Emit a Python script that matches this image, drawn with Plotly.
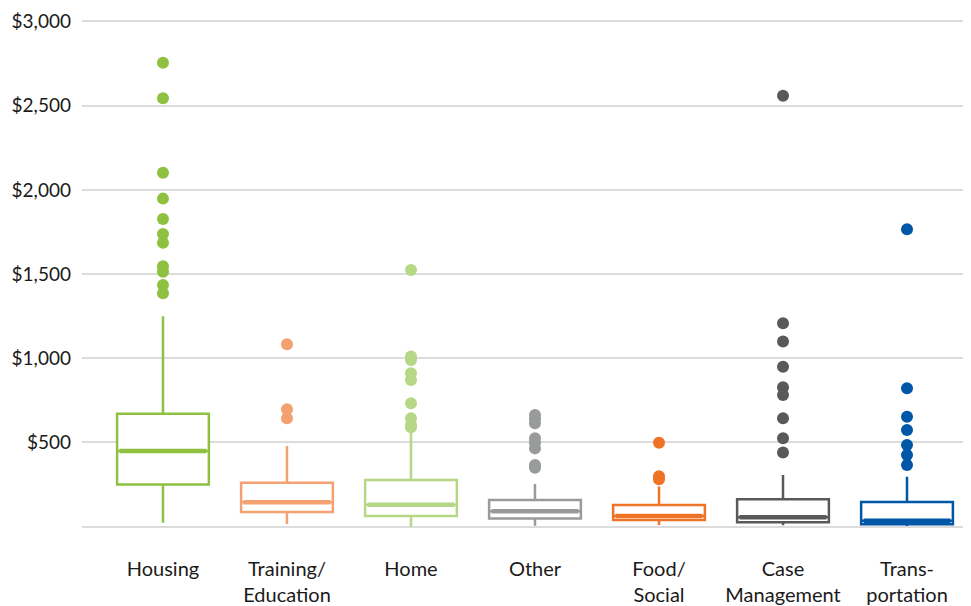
import plotly.graph_objects as go

categories = ["Housing", "Training/<br>Education", "Home", "Other", "Food/<br>Social",
              "Case<br>Management", "Trans-<br>portation"]
colors = ["#8dc13f", "#f4a172", "#b6d886", "#989a9b", "#ee7326", "#58595b", "#0057a8"]

q1 = [250, 87, 64, 48, 40, 26, 14]
median = [450, 145, 131, 91, 64, 56, 36]
q3 = [671, 261, 277, 158, 129, 163, 147]
lowerfence = [24, 16, 0, 5, 10, 8, 4]
upperfence = [1250, 479, 570, 253, 238, 307, 297]

outliers = [
    [2755, 2544, 2102, 1948, 1827, 1738, 1686, 1547, 1514, 1435, 1386],
    [1083, 697, 644],
    [1524, 1010, 990, 911, 871, 733, 644, 604, 590],
    [663, 640, 614, 525, 500, 465, 366, 350],
    [499, 300, 282],
    [2559, 1208, 1099, 950, 828, 782, 644, 525, 440],
    [1766, 822, 653, 574, 485, 426, 366],
]

ytickvals = [0, 500, 1000, 1500, 2000, 2500, 3000]
yticktext = ["", "$500", "$1,000", "$1,500", "$2,000", "$2,500", "$3,000"]

fig = go.Figure()
for i, cat in enumerate(categories):
    fig.add_trace(go.Box(
        x=[cat], q1=[q1[i]], median=[median[i]], q3=[q3[i]],
        lowerfence=[lowerfence[i]], upperfence=[upperfence[i]],
        line=dict(color=colors[i], width=2.5), fillcolor="white",
        whiskerwidth=0, boxpoints=False, width=0.74, hoverinfo="skip",
        showlegend=False,
    ))
    # thick median line
    fig.add_trace(go.Box(
        x=[cat], q1=[median[i]], median=[median[i]], q3=[median[i]],
        lowerfence=[median[i]], upperfence=[median[i]],
        line=dict(color=colors[i], width=4.5), fillcolor=colors[i],
        whiskerwidth=0, boxpoints=False, width=0.70, hoverinfo="skip",
        showlegend=False,
    ))
    fig.add_trace(go.Scatter(
        x=[cat] * len(outliers[i]), y=outliers[i], mode="markers",
        marker=dict(color=colors[i], size=12, line=dict(width=0)),
        showlegend=False, hoverinfo="skip",
    ))

fig.update_layout(
    width=963, height=598,
    margin=dict(l=74, r=0, t=2, b=66),
    plot_bgcolor="white", paper_bgcolor="white",
    boxmode="overlay",
    font=dict(family="Lato", size=19, color="#1a1a1a"),
    xaxis=dict(
        categoryorder="array", categoryarray=categories,
        range=[-0.653, 6.516], showgrid=False, zeroline=False, showline=False,
        ticks="", tickfont=dict(size=20, color="#1a1a1a"), ticklabelstandoff=15,
        automargin=False,
    ),
    yaxis=dict(
        range=[-79, 3068], tickvals=ytickvals, ticktext=yticktext,
        showgrid=True, gridcolor="#dcdcdc", gridwidth=2, zeroline=False,
        showline=False, ticks="", tickfont=dict(size=19, color="#1a1a1a"),
        ticklabelstandoff=10, automargin=False,
    ),
)

fig.write_html("out.html")
